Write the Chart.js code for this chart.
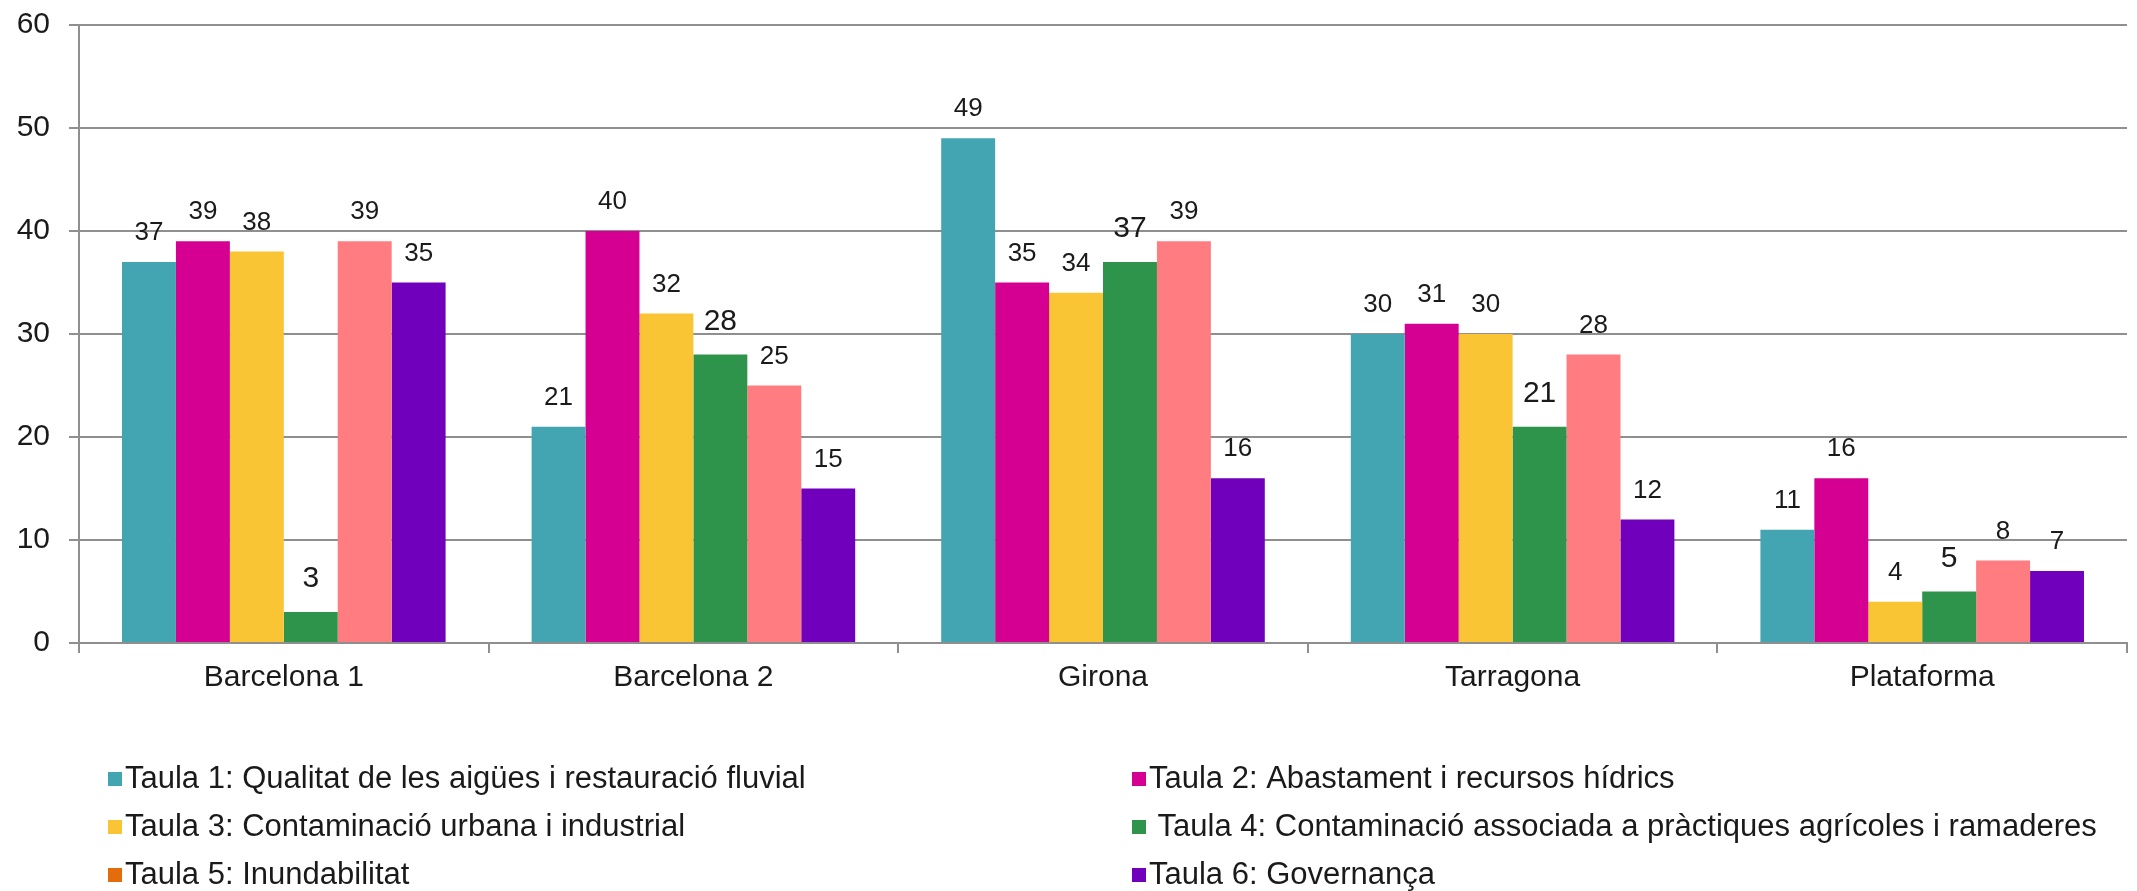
<!DOCTYPE html>
<html>
<head>
<meta charset="utf-8">
<script src="https://cdn.jsdelivr.net/npm/chart.js@4/dist/chart.umd.min.js"></script>
<style>
  html, body { margin: 0; padding: 0; background: #fff; }
  #wrap { width: 2137px; height: 891px; }
</style>
</head>
<body>
<div id="wrap"><canvas id="grafic"></canvas></div>
<script>
// dades
var categories = ['Barcelona 1', 'Barcelona 2', 'Girona', 'Tarragona', 'Plataforma'];
var taula1 = [37, 21, 49, 30, 11];
var taula2 = [39, 40, 35, 31, 16];
var taula3 = [38, 32, 34, 30, 4];
var taula4 = [3, 28, 37, 21, 5];
var taula5 = [39, 25, 39, 28, 8];
var taula6 = [35, 15, 16, 12, 7];
var noms = [
  'Taula 1: Qualitat de les aigües i restauració fluvial',
  'Taula 2: Abastament i recursos hídrics',
  'Taula 3: Contaminació urbana i industrial',
  ' Taula 4: Contaminació associada a pràctiques agrícoles i ramaderes',
  'Taula 5: Inundabilitat',
  'Taula 6: Governança'
];
var yTicks = [0, 10, 20, 30, 40, 50, 60];

var colors = ['#43A5B1', '#D50091', '#F9C535', '#2F944B', '#FF7C80', '#7000BB'];
var colorsLlegenda = ['#43A5B1', '#D50091', '#F9C535', '#2F944B', '#E46C0A', '#7000BB'];
var series = [taula1, taula2, taula3, taula4, taula5, taula6];

var FONT = '"Liberation Sans", Arial, sans-serif';
var GRIS = '#8f8f8f';

// etiquetes de valor sobre les barres
var etiquetes = {
  id: 'etiquetes',
  afterDatasetsDraw: function (chart) {
    var ctx = chart.ctx;
    ctx.save();
    ctx.fillStyle = '#1a1a1a';
    ctx.textAlign = 'center';
    ctx.textBaseline = 'middle';
    chart.data.datasets.forEach(function (ds, i) {
      var gran = i === 3;
      ctx.font = (gran ? '30px ' : '26px ') + FONT;
      chart.getDatasetMeta(i).data.forEach(function (bar, j) {
        ctx.fillText(ds.data[j], bar.x, bar.y - (gran ? 33 : 29));
      });
    });
    ctx.restore();
  }
};

// llegenda en dues columnes
var llegenda = {
  id: 'llegenda',
  afterDraw: function (chart) {
    var ctx = chart.ctx;
    var colX = [108, 1132];
    var rowY = [779, 827, 875];
    ctx.save();
    ctx.font = '31px ' + FONT;
    ctx.textBaseline = 'middle';
    ctx.textAlign = 'left';
    chart.data.datasets.forEach(function (ds, i) {
      var x = colX[i % 2];
      var y = rowY[Math.floor(i / 2)];
      ctx.fillStyle = colorsLlegenda[i];
      ctx.fillRect(x, y - 7, 14, 14);
      ctx.fillStyle = '#1a1a1a';
      ctx.fillText(ds.label, x + 17, y);
    });
    ctx.restore();
  }
};

var datasets = series.map(function (s, i) {
  return {
    label: noms[i],
    data: s,
    backgroundColor: colors[i],
    borderWidth: 0
  };
});

var ctx = document.getElementById('grafic');
var grafic = new Chart(ctx, {
  type: 'bar',
  data: {
    labels: categories,
    datasets: datasets
  },
  options: {
    responsive: true,
    maintainAspectRatio: false,
    animation: false,
    layout: {
      padding: { top: 25, right: 10, left: 0, bottom: 0 }
    },
    datasets: {
      bar: {
        categoryPercentage: 0.79,
        barPercentage: 1.0
      }
    },
    plugins: {
      legend: { display: false },
      tooltip: { enabled: false }
    },
    scales: {
      x: {
        grid: {
          offset: true,
          drawOnChartArea: false,
          drawTicks: true,
          tickLength: 10,
          color: GRIS,
          lineWidth: 2
        },
        border: { display: true, color: GRIS, width: 2 },
        ticks: {
          color: '#1a1a1a',
          font: { family: FONT, size: 30 },
          padding: 7
        },
        afterFit: function (scale) {
          scale.height = 248;
          scale.paddingLeft = 0;
          scale.paddingRight = 0;
        }
      },
      y: {
        min: yTicks[0],
        max: yTicks[yTicks.length - 1],
        afterBuildTicks: function (scale) {
          scale.ticks = yTicks.map(function (v) { return { value: v }; });
        },
        grid: {
          color: GRIS,
          lineWidth: 2,
          tickLength: 10
        },
        border: { display: true, color: GRIS, width: 2 },
        ticks: {
          color: '#1a1a1a',
          font: { family: FONT, size: 30 },
          padding: 19
        },
        afterFit: function (scale) {
          scale.width = 79;
          scale.paddingTop = 0;
          scale.paddingBottom = 0;
        }
      }
    }
  },
  plugins: [etiquetes, llegenda]
});
</script>
</body>
</html>
